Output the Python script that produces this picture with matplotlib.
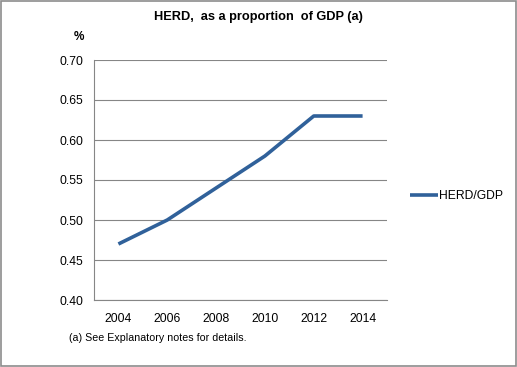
import matplotlib.pyplot as plt
from matplotlib.patches import Rectangle

plt.rcParams['font.family'] = ['Liberation Sans', 'DejaVu Sans']

## Data
years = ['2004', '2006', '2008', '2010', '2012', '2014']
herd_gdp = [0.47, 0.50, 0.54, 0.58, 0.63, 0.63]
yticks = [0.40, 0.45, 0.50, 0.55, 0.60, 0.65, 0.70]

fig = plt.figure(figsize=(5.17, 3.67), dpi=100)
ax = fig.add_axes([94/517, 1 - 300/367, 293/517, 240/367])

x = range(len(years))
line, = ax.plot(x, herd_gdp, color='#30619A', linewidth=2.6, solid_capstyle='butt')

ax.set_xlim(-0.5, len(years) - 0.5)
ax.set_ylim(0.40, 0.70)
ax.set_xticks(list(x))
ax.set_xticklabels(years)
ax.set_yticks(yticks)
ax.set_yticklabels(['%.2f' % v for v in yticks])
ax.tick_params(length=0, labelsize=8.7, colors='black', pad=8)
ax.tick_params(axis='x', pad=9)

ax.grid(axis='y', color='#868686', linewidth=0.8)
ax.set_axisbelow(True)
for s in ['top', 'right']:
    ax.spines[s].set_visible(False)
for s in ['left', 'bottom']:
    ax.spines[s].set_color('#868686')
    ax.spines[s].set_linewidth(0.8)

## Text
fig.text(258/517, 1 - 17/367, 'HERD,  as a proportion  of GDP (a)', ha='center', va='center',
         fontsize=9.2, fontweight='bold')
fig.text(79/517, 1 - 37/367, '%', ha='center', va='center', fontsize=8.5, fontweight='bold')
fig.text(69/517, 1 - 338/367, '(a) See Explanatory notes for details.', ha='left', va='center',
         fontsize=7.7)

fig.legend([line], ['HERD/GDP'], loc='center left', bbox_to_anchor=(399/517, 1 - 196/367),
           frameon=False, fontsize=8.7, handlelength=2.3, handletextpad=0.1)

## Border
fig.patches.append(Rectangle((0.001, 0.002), 0.997, 0.995, transform=fig.transFigure,
                             fill=False, edgecolor='#8c8c8c', linewidth=1.2))

fig.savefig('out.png', dpi=100)
